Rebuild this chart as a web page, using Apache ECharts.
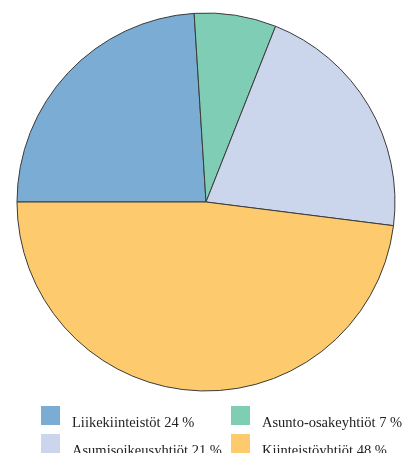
<!DOCTYPE html>
<html>
<head>
<meta charset="utf-8">
<script src="https://cdn.jsdelivr.net/npm/echarts@6/dist/echarts.min.js"></script>
<style>
  html, body { margin: 0; padding: 0; background: #fff; }
  #chart { width: 405px; height: 453px; }
</style>
</head>
<body>
<div id="chart"></div>
<script>
// Ownership breakdown, percentages
const categories = ['Liikekiinteistöt', 'Asunto-osakeyhtiöt', 'Asumisoikeusyhtiöt', 'Kiinteistöyhtiöt'];
const shares = [24, 7, 21, 48];
const colors = ['#7BADD4', '#7FCDB5', '#CBD5EC', '#FDCB6E'];

const labelOf = {};
categories.forEach((c, i) => { labelOf[c] = c + ' ' + shares[i] + ' %'; });

const serif = 'Liberation Serif, Times New Roman, serif';

const legendBase = {
  orient: 'vertical',
  padding: 0,
  height: 100,
  itemWidth: 19,
  itemHeight: 19,
  itemGap: 3,
  icon: 'rect',
  selectedMode: false,
  itemStyle: { borderWidth: 0 },
  textStyle: {
    fontFamily: serif,
    fontSize: 14.5,
    color: '#222',
    rich: {
      // label sits a little below the swatch's centre line
      t: { fontFamily: serif, fontSize: 14.5, color: '#222', padding: [16, 0, 0, 7] }
    }
  },
  formatter: name => '{t|' + labelOf[name] + '}'
};

const chart = echarts.init(document.getElementById('chart'));
chart.setOption({
  animation: false,
  color: colors,
  legend: [
    Object.assign({}, legendBase, { left: 41, top: 406, data: [categories[0], categories[2]] }),
    Object.assign({}, legendBase, { left: 231, top: 406, data: [categories[1], categories[3]] })
  ],
  series: [{
    type: 'pie',
    center: [206, 202],
    radius: 189,
    startAngle: 180,
    clockwise: true,
    label: { show: false },
    labelLine: { show: false },
    emphasis: { disabled: true },
    itemStyle: { borderColor: '#3a3a3a', borderWidth: 1 },
    data: categories.map((c, i) => ({ name: c, value: shares[i] }))
  }]
});
</script>
</body>
</html>
